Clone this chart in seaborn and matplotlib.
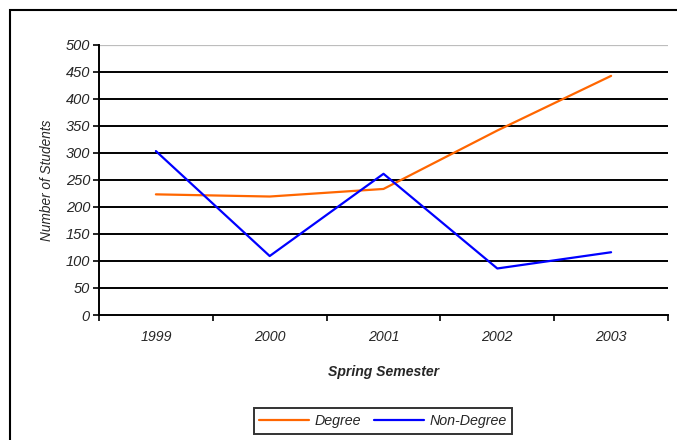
import matplotlib
matplotlib.use("Agg")
import matplotlib.pyplot as plt
from matplotlib.patches import Rectangle
from matplotlib.ticker import FixedLocator, NullFormatter
import seaborn as sns
import pandas as pd

# Enrolment by spring semester
years = ["1999", "2000", "2001", "2002", "2003"]
degree = [223, 219, 233, 341, 442]
non_degree = [303, 109, 261, 86, 116]
series_names = ["Degree", "Non-Degree"]
y_ticks = [0, 50, 100, 150, 200, 250, 300, 350, 400, 450, 500]

df = pd.DataFrame({
    "Year": years * 2,
    "Students": degree + non_degree,
    "Type": [series_names[0]] * len(years) + [series_names[1]] * len(years),
})
df["pos"] = df["Year"].map({y: i for i, y in enumerate(years)})

sns.set_style("white")
plt.rcParams["font.family"] = ["Liberation Sans", "DejaVu Sans"]

W, H = 677, 440
fig = plt.figure(figsize=(W / 100, H / 100), dpi=100)
ax = fig.add_axes([99 / W, 1 - 315 / H, (668 - 99) / W, (315 - 44.5) / H])

# horizontal gridlines (black), top one drawn as light grey border
for v in y_ticks[1:-1]:
    ax.axhline(v, color="black", lw=1.4, zorder=1)
ax.axhline(500, color="#bdbdbd", lw=1.6, zorder=1)

sns.lineplot(data=df, x="pos", y="Students", hue="Type",
             palette={"Degree": "#FF6600", "Non-Degree": "#0000FF"},
             linewidth=1.6, ax=ax, legend=True, zorder=3)

ax.set_xlim(-0.5, len(years) - 0.5)
ax.set_ylim(0, 500)

# y axis
ax.set_yticks(y_ticks)
ax.set_yticklabels([str(v) for v in y_ticks], fontsize=10.5, style="italic")
ax.tick_params(axis="y", direction="out", length=4, width=1.2, color="black",
               left=True, pad=2.5)

# x axis: ticks between categories, labels centred on categories
ax.xaxis.set_major_locator(FixedLocator([i - 0.5 for i in range(len(years) + 1)]))
ax.xaxis.set_major_formatter(NullFormatter())
ax.xaxis.set_minor_locator(FixedLocator(range(len(years))))
ax.set_xticklabels(years, minor=True, fontsize=10.2, style="italic")
ax.tick_params(axis="x", which="major", direction="out", length=4, width=1.2,
               color="black", bottom=True)
ax.tick_params(axis="x", which="minor", length=0, pad=11)

for side in ["top", "right"]:
    ax.spines[side].set_visible(False)
for side in ["left", "bottom"]:
    ax.spines[side].set_color("black")
    ax.spines[side].set_linewidth(1.4)

ax.set_xlabel("Spring Semester", fontsize=10.1, style="italic",
              fontweight="bold", labelpad=15)
ax.set_ylabel("Number of Students", fontsize=9.8, style="italic", labelpad=8)

handles, labels = ax.get_legend_handles_labels()
leg = ax.legend(handles, labels, loc="center", ncol=2,
                bbox_to_anchor=(383 / W, 1 - 421 / H),
                bbox_transform=fig.transFigure, frameon=True, fancybox=False,
                edgecolor="black", handlelength=3.5, handletextpad=0.4,
                columnspacing=0.85, borderpad=0.4,
                prop={"size": 10.3, "style": "italic"})
leg.get_frame().set_linewidth(1.4)

# outer chart frame
fig.patches.append(Rectangle((10 / W, -0.1), 1.2, 1 - 10 / H + 0.1,
                             transform=fig.transFigure, fill=False,
                             edgecolor="black", lw=1.5))

fig.savefig("out.png", dpi=100)
